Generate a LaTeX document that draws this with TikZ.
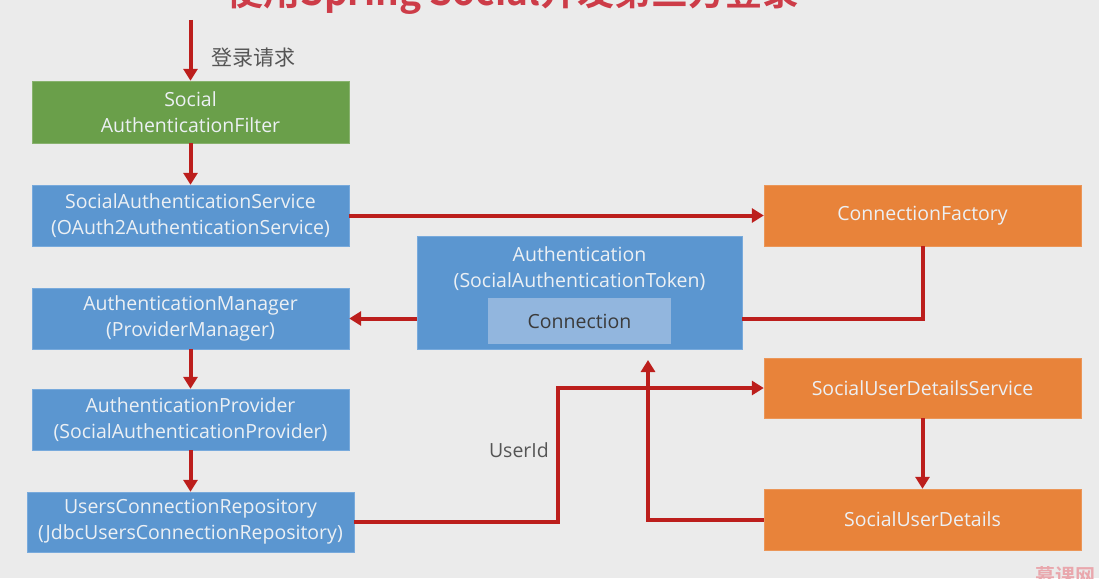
\documentclass[tikz,border=0pt]{standalone}
\usepackage{fontspec}
\setmainfont{Open Sans}
\newfontfamily\cjk{Noto Sans CJK SC}
\newfontfamily\cjkb{Noto Sans CJK SC Bold}
\usetikzlibrary{arrows.meta}
\definecolor{bgc}{RGB}{235,235,235}
\definecolor{redl}{RGB}{188,30,28}
\definecolor{greenb}{RGB}{106,159,74}
\definecolor{blueb}{RGB}{91,150,208}
\definecolor{blueedge}{RGB}{120,170,220}
\definecolor{orangeb}{RGB}{232,131,58}
\definecolor{connb}{RGB}{146,182,222}
\definecolor{boxtext}{RGB}{236,240,244}
\definecolor{graytext}{RGB}{85,85,85}
\definecolor{titlered}{RGB}{205,60,72}
\begin{document}
\begin{tikzpicture}[x=1pt,y=-1pt,
  box/.style={rectangle, inner sep=0pt, align=center, text=boxtext,
    font=\fontsize{19.5}{26}\selectfont},
  gbox/.style={box, fill=greenb, draw=greenb!80!white, minimum width=317pt, minimum height=62pt},
  bbox/.style={box, fill=blueb, draw=blueedge, minimum width=317pt, minimum height=61pt},
  obox/.style={box, fill=orangeb, draw=orangeb!85!white, minimum width=317pt, minimum height=61pt},
  arr/.style={draw=redl, line width=4pt, -{Triangle[width=14pt,length=12pt]}},
  ln/.style={draw=redl, line width=4pt},
  lbl/.style={text=graytext, inner sep=0pt}]
\useasboundingbox (0,0) rectangle (1099,578);
\fill[bgc] (0,0) rectangle (1099,578);
% title (cut off at top)
\node[anchor=base, text=titlered, inner sep=0pt, font=\cjkb\fontsize{37}{37}\selectfont] (title) at (513,6) {使用Spring Social开发第三方登录};
% watermark
\node[anchor=north west, text=titlered!45!white, inner sep=0pt, font=\cjkb\fontsize{20}{20}\selectfont] (wm) at (1035,566) {慕课网};
% left column
\node[gbox] (filter) at (190.5,112) {Social\\AuthenticationFilter};
\node[bbox] (sas) at (190.5,215.5) {SocialAuthenticationService\\(OAuth2AuthenticationService)};
\node[bbox] (am) at (190.5,318.5) {AuthenticationManager\\(ProviderManager)};
\node[bbox] (ap) at (190.5,419.5) {AuthenticationProvider\\(SocialAuthenticationProvider)};
\node[bbox, minimum width=327pt, minimum height=60pt] (ucr) at (190.5,522) {UsersConnectionRepository\\(JdbcUsersConnectionRepository)};
% middle
\node[bbox, minimum width=325pt, minimum height=113pt] (auth) at (579.5,292.5) {};
\node[box] (authlbl) at (579.5,269) {Authentication\\(SocialAuthenticationToken)};
\node[box, fill=connb, minimum width=183pt, minimum height=46pt, text=graytext!70!black] (conn) at (579.5,321) {Connection};
% right column
\node[obox] (cf) at (922.5,215.5) {ConnectionFactory};
\node[obox, minimum height=60pt] (suds) at (922.5,388) {SocialUserDetailsService};
\node[obox] (sud) at (922.5,519.5) {SocialUserDetails};
% connectors
\coordinate (start) at (190.5,20);
\draw[arr] (start) -- (filter.north);
\node[lbl, anchor=west, font=\cjk\fontsize{21}{21}\selectfont] (req) at (211,58) {登录请求};
\draw[arr] (filter.south) -- (sas.north);
\draw[arr] (sas.east) -- (cf.west);
\draw[ln] (cf.south) |- (auth.east |- am.east);
\draw[arr] (auth.west |- am.east) -- (am.east);
\draw[arr] (am.south) -- (ap.north);
\draw[arr] (ap.south) -- (ucr.north);
\coordinate (uj) at (558,450);
\draw[arr] (ucr.east) -| (uj) |- (suds.west);
\node[lbl, anchor=east, font=\fontsize{19.5}{19.5}\selectfont] (uid) at (549,450) {UserId};
\draw[arr] (suds.south) -- (sud.north);
\coordinate (aj) at (648,360);
\draw[arr] (sud.west) -| (aj);
\end{tikzpicture}
\end{document}
